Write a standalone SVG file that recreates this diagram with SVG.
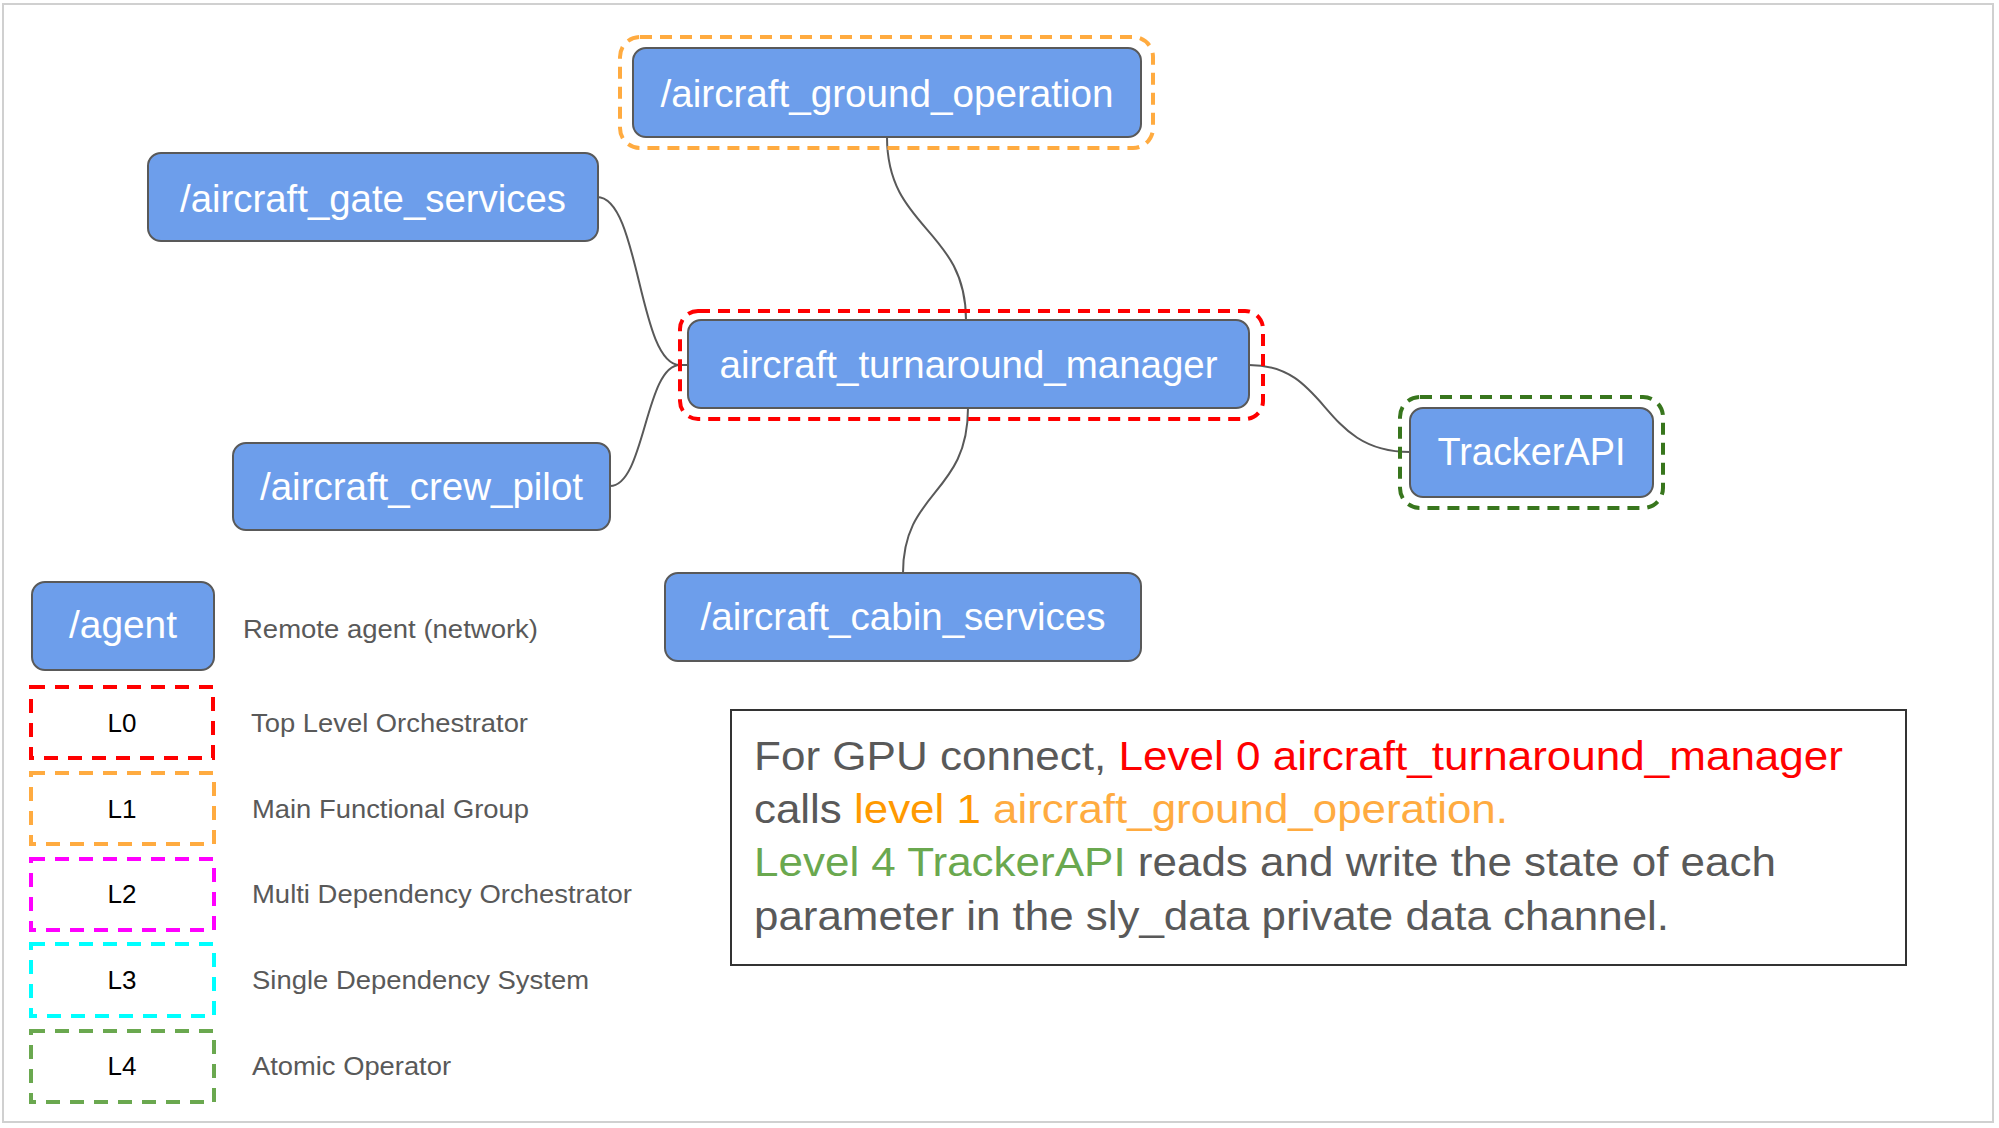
<svg xmlns="http://www.w3.org/2000/svg" width="1999" height="1128" viewBox="0 0 1999 1128">
<defs>
<style>
.node rect.box{fill:#6d9eeb;stroke:#595959;stroke-width:2}
.node text{font-family:"Liberation Sans",Arial,sans-serif;font-size:38px;fill:#ffffff;text-anchor:middle}
.dash{fill:none;stroke-width:4;stroke-dasharray:12 8}
.ldash{fill:none;stroke-width:4;stroke-dasharray:14 10}
.conn path{fill:none;stroke:#595959;stroke-width:2}
.leg{font-family:"Liberation Sans",Arial,sans-serif;font-size:26px;fill:#595959}
.lab{font-family:"Liberation Sans",Arial,sans-serif;font-size:26px;fill:#000000;text-anchor:middle}
.info{font-family:"Liberation Sans",Arial,sans-serif;font-size:40px;fill:#595959}
</style>
</defs>
<rect x="0" y="0" width="1999" height="1128" fill="#ffffff"/>
<rect x="3" y="4" width="1990" height="1118" fill="none" stroke="#d0d0d0" stroke-width="2"/>

<g id="connectors" class="conn">
<path d="M597,197 C640,197 638,365 680,365 L688,365"/>
<path d="M610,486 C645,486 645,365 680,365"/>
<path d="M887,137 C887,230 966,228 966,320"/>
<path d="M968,408 C968,495 903,490 903,573"/>
<path d="M1249,365 C1330,365 1320,452 1410,452"/>
</g>

<g id="aircraft_ground_operation" class="node">
<rect class="dash" x="620" y="37" width="533" height="111" rx="20" stroke="#ffab40"/>
<rect class="box" x="633" y="48" width="508" height="89" rx="13"/>
<text x="887" y="107" textLength="453" lengthAdjust="spacingAndGlyphs">/aircraft_ground_operation</text>
</g>

<g id="aircraft_gate_services" class="node">
<rect class="box" x="148" y="153" width="450" height="88" rx="13"/>
<text x="373" y="212" textLength="386" lengthAdjust="spacingAndGlyphs">/aircraft_gate_services</text>
</g>

<g id="aircraft_turnaround_manager" class="node">
<rect class="dash" x="680" y="311" width="583" height="108" rx="18" stroke="#ff0000"/>
<rect class="box" x="688" y="320" width="561" height="88" rx="13"/>
<text x="968.5" y="378" textLength="498" lengthAdjust="spacingAndGlyphs">aircraft_turnaround_manager</text>
</g>

<g id="aircraft_crew_pilot" class="node">
<rect class="box" x="233" y="443" width="377" height="87" rx="13"/>
<text x="421.5" y="500" textLength="323" lengthAdjust="spacingAndGlyphs">/aircraft_crew_pilot</text>
</g>

<g id="aircraft_cabin_services" class="node">
<rect class="box" x="665" y="573" width="476" height="88" rx="13"/>
<text x="903" y="630" textLength="405" lengthAdjust="spacingAndGlyphs">/aircraft_cabin_services</text>
</g>

<g id="TrackerAPI" class="node">
<rect class="dash" x="1400" y="397" width="263" height="111" rx="20" stroke="#38761d"/>
<rect class="box" x="1410" y="408" width="243" height="89" rx="13"/>
<text x="1531.5" y="465" textLength="188" lengthAdjust="spacingAndGlyphs">TrackerAPI</text>
</g>

<g id="legend">
<g id="legend_agent" class="node">
<rect class="box" x="32" y="582" width="182" height="88" rx="13"/>
<text x="123" y="638" textLength="108" lengthAdjust="spacingAndGlyphs">/agent</text>
</g>
<text class="leg" x="243" y="638" textLength="295" lengthAdjust="spacingAndGlyphs">Remote agent (network)</text>

<g id="legend_L0">
<rect class="ldash" x="31" y="687" width="182" height="71" stroke="#ff0000"/>
<text class="lab" x="122" y="732">L0</text>
<text class="leg" x="251" y="732" textLength="277" lengthAdjust="spacingAndGlyphs">Top Level Orchestrator</text>
</g>
<g id="legend_L1">
<rect class="ldash" x="31" y="773" width="183" height="71" stroke="#ffab40"/>
<text class="lab" x="122" y="818">L1</text>
<text class="leg" x="252" y="818" textLength="277" lengthAdjust="spacingAndGlyphs">Main Functional Group</text>
</g>
<g id="legend_L2">
<rect class="ldash" x="31" y="859" width="183" height="71" stroke="#ff00ff"/>
<text class="lab" x="122" y="903">L2</text>
<text class="leg" x="252" y="903" textLength="380" lengthAdjust="spacingAndGlyphs">Multi Dependency Orchestrator</text>
</g>
<g id="legend_L3">
<rect class="ldash" x="31" y="944" width="183" height="72" stroke="#00ffff"/>
<text class="lab" x="122" y="989">L3</text>
<text class="leg" x="252" y="989" textLength="337" lengthAdjust="spacingAndGlyphs">Single Dependency System</text>
</g>
<g id="legend_L4">
<rect class="ldash" x="31" y="1031" width="183" height="71" stroke="#6aa84f"/>
<text class="lab" x="122" y="1075">L4</text>
<text class="leg" x="252" y="1075" textLength="199" lengthAdjust="spacingAndGlyphs">Atomic Operator</text>
</g>
</g>

<g id="note">
<rect x="731" y="710" width="1175" height="255" fill="#ffffff" stroke="#333333" stroke-width="2"/>
<text class="info" x="754" y="770" textLength="1089" lengthAdjust="spacingAndGlyphs">For GPU connect, <tspan fill="#ff0000">Level 0 aircraft_turnaround_manager</tspan></text>
<text class="info" x="754" y="823" textLength="754" lengthAdjust="spacingAndGlyphs">calls <tspan fill="#ff9900">level 1 </tspan><tspan fill="#ffab40">aircraft_ground_operation.</tspan></text>
<text class="info" x="754" y="876" textLength="1022" lengthAdjust="spacingAndGlyphs"><tspan fill="#6aa84f">Level 4 TrackerAPI</tspan> reads and write the state of each</text>
<text class="info" x="754" y="930" textLength="915" lengthAdjust="spacingAndGlyphs">parameter in the sly_data private data channel.</text>
</g>
</svg>
